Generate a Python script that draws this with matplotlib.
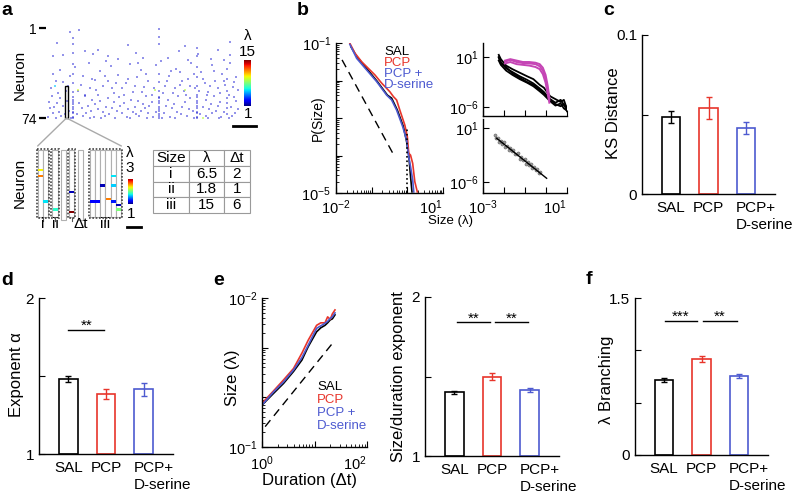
import numpy as np
import matplotlib.pyplot as plt
from matplotlib.patches import Rectangle, ConnectionPatch
from matplotlib.lines import Line2D

plt.rcParams['font.family'] = ['Liberation Sans', 'DejaVu Sans']
plt.rcParams['mathtext.fontset'] = 'custom'
plt.rcParams['mathtext.rm'] = 'Liberation Sans'
plt.rcParams['mathtext.default'] = 'rm'
plt.rcParams['xtick.direction'] = 'in'
plt.rcParams['ytick.direction'] = 'in'
plt.rcParams['axes.linewidth'] = 1.0
plt.rcParams['xtick.major.size'] = 4
plt.rcParams['ytick.major.size'] = 4
plt.rcParams['xtick.minor.size'] = 2
plt.rcParams['ytick.minor.size'] = 2

# ---------------- data ----------------
groups = ['SAL', 'PCP', 'PCP+']
bar_x = [1, 2, 3]
ks_mean = [0.0485, 0.054, 0.0415]
ks_err = [0.004, 0.007, 0.004]
alpha_mean = [1.48, 1.385, 1.415]
alpha_err = [0.02, 0.03, 0.04]
sd_mean = [1.40, 1.50, 1.415]
sd_err = [0.01, 0.025, 0.015]
branch_mean = [0.717, 0.917, 0.755]
branch_err = [0.015, 0.03, 0.015]

# panel a raster events (time bin, neuron)
top_events = [(111, 2), (31, 3), (22, 4), (111, 8), (25, 9), (182, 12), (9, 13), (25, 14), (111, 14),
              (80, 15), (137, 16), (149, 17), (50, 19), (170, 19), (37, 20), (131, 20), (25, 21),
              (88, 21), (150, 22), (45, 22), (182, 23), (15, 23), (5, 24), (60, 24), (149, 24),
              (95, 25), (120, 25), (163, 26), (70, 26), (140, 27), (176, 27)]
mid_events = [(3, 50), (8, 44), (12, 35), (18, 52), (22, 40), (25, 30), (25, 38), (25, 46), (25, 53),
              (27, 33), (33, 47), (37, 55), (41, 29), (44, 42), (48, 51), (52, 36), (55, 48), (60, 44),
              (63, 32), (66, 54), (70, 39), (74, 50), (78, 46), (82, 30), (85, 53), (89, 41), (93, 35),
              (96, 49), (100, 44), (104, 55), (108, 31), (111, 38), (111, 45), (111, 52), (113, 28),
              (117, 48), (121, 40), (125, 54), (128, 34), (132, 47), (136, 52), (140, 42), (143, 29),
              (147, 50), (149, 33), (149, 41), (149, 48), (149, 55), (153, 37), (157, 46), (160, 53),
              (164, 31), (167, 44), (170, 50), (174, 38), (177, 47), (179, 34), (179, 42), (179, 52),
              (182, 29), (185, 49), (188, 41), (15, 45), (58, 28), (90, 29), (132, 37), (5, 38),
              (47, 43), (10, 54), (20, 48), (30, 52), (35, 40), (42, 50), (50, 55), (57, 40), (64, 50),
              (68, 46), (76, 55), (80, 42), (87, 48), (94, 53), (98, 38), (106, 50), (115, 54),
              (119, 44), (123, 36), (127, 50), (134, 44), (138, 55), (142, 48), (146, 38), (151, 52),
              (155, 42), (159, 55), (162, 48), (166, 36), (172, 54), (176, 44), (181, 55), (186, 45),
              (190, 51)]
low_events = [(4, 56), (25, 57), (37, 56), (71, 57), (98, 56), (111, 57), (130, 56), (149, 57), (166, 56), (186, 57),
              (12, 58), (25, 59), (44, 59), (60, 58), (83, 59), (111, 58), (120, 59), (142, 58), (158, 59), (179, 58),
              (1, 61), (19, 60), (25, 61), (52, 60), (66, 61), (90, 60), (104, 61), (111, 60), (137, 61), (149, 60),
              (172, 61), (188, 60),
              (9, 62), (25, 63), (31, 62), (47, 63), (76, 62), (95, 63), (111, 62), (126, 63), (149, 62), (163, 63),
              (179, 62),
              (6, 65), (15, 64), (25, 65), (40, 64), (58, 65), (72, 64), (87, 65), (101, 64), (111, 65), (118, 64),
              (134, 65), (149, 64), (155, 65), (170, 64), (183, 65),
              (2, 66), (25, 67), (34, 66), (50, 67), (64, 66), (80, 67), (97, 66), (111, 67), (124, 66), (141, 67),
              (149, 66), (161, 67), (179, 66), (190, 67),
              (11, 69), (21, 68), (25, 69), (43, 68), (55, 69), (69, 68), (85, 69), (93, 68), (108, 69), (111, 68),
              (129, 69), (145, 68), (149, 69), (168, 68), (176, 69),
              (5, 70), (17, 71), (25, 70), (29, 71), (38, 70), (61, 71), (74, 70), (88, 71), (100, 70), (111, 71),
              (116, 70), (133, 71), (149, 70), (152, 71), (164, 70), (179, 71), (187, 70),
              (0, 73), (13, 72), (25, 73), (35, 72), (46, 73), (57, 72), (79, 73), (91, 72), (105, 73), (111, 72),
              (122, 73), (139, 72), (149, 73), (158, 72), (173, 73), (184, 72),
              (8, 74), (23, 74), (25, 74), (42, 74), (53, 74), (67, 74), (82, 74), (99, 74), (111, 74), (114, 74),
              (127, 74), (146, 74), (149, 74), (160, 74), (171, 74), (181, 74)]
bright_t = [7, 30, 107, 137, 155]
bright_n = [48, 51, 51, 51, 74]
bright_lam = [5.5, 9.5, 9.0, 9.0, 9.0]
highlight_t = (17, 20)
highlight_n = (48, 74)

# zoomed avalanches
zoom_start = [0.5, 3.3, 6.4, 10.3]
zoom_nbins = [2, 1, 1, 6]
zoom_names = ['i', 'ii', '', 'iii']
zoom_empty = [4.9, 8.1]
zoom_ev_bin = [0.5, 0.5, 1.5, 3.3, 6.4, 6.4, 10.3, 11.3, 12.3, 13.3, 14.3, 14.3, 14.3, 15.3, 15.3]
zoom_ev_n = [56.3, 58.6, 68.6, 71.7, 64.8, 72.5, 68.5, 68.5, 62.4, 67.5, 58.6, 62.4, 68.5, 69.8, 71.7]
zoom_ev_lam = [2.3, 2.55, 1.7, 1.8, 1.1, 3.0, 1.25, 1.25, 1.1, 2.55, 1.7, 1.65, 1.3, 1.1, 2.0]
size_id = ['i', 'ii', 'iii']
size_lam = ['6.5', '1.8', '15']
size_dt = ['2', '1', '6']

# panel b: avalanche size distributions (log10 values)
sal_x = [-1.58, -1.42, -1.14, -0.84, -0.56, -0.44, -0.28, -0.11, -0.02, 0.04, 0.09, 0.13]
sal_y = [-1.10, -1.36, -1.68, -2.03, -2.39, -2.47, -2.79, -3.23, -3.63, -3.99, -4.56, -4.97]
pcp_x = [-1.61, -1.47, -1.28, -1.09, -0.91, -0.72, -0.49, -0.39, -0.30, -0.21, -0.07, 0.00, 0.04, 0.09, 0.15, 0.21, 0.28]
pcp_y = [-1.01, -1.27, -1.50, -1.68, -1.85, -2.07, -2.30, -2.43, -2.52, -2.79, -3.19, -3.50, -3.94, -3.99, -4.21, -4.70, -4.97]
dser_x = [-1.61, -1.42, -1.14, -0.86, -0.58, -0.44, -0.30, -0.13, -0.02, 0.03, 0.09, 0.15, 0.18]
dser_y = [-1.04, -1.41, -1.72, -2.03, -2.39, -2.52, -2.79, -3.23, -3.59, -3.99, -4.30, -4.65, -4.97]
size_fit_x = [-1.83, -0.35]
size_fit_y = [-1.45, -4.04]
size_cut = 1.0
size_cut_top = -3.27

# panel b insets
shuf_x = [-2.25, -2.15, -1.9, -1.6, -1.25, -0.9, -0.6, -0.3, -0.1, 0.2, 0.45, 0.7, 0.85, 1.0]
shuf_y1 = [1.3, 0.7, -0.2, -0.7, -1.2, -1.7, -2.1, -2.9, -3.3, -4.5, -4.9, -5.3, -5.0, -6.3]
shuf_y2 = [0.9, 0.3, -0.6, -1.1, -1.7, -2.2, -2.7, -3.4, -3.9, -4.9, -5.4, -5.0, -5.7, -6.0]
shuf_y3 = [0.5, -0.1, -0.9, -1.5, -2.1, -2.6, -3.1, -3.8, -4.3, -5.2, -5.8, -5.5, -6.2, -6.5]
shuf_y4 = [1.0, 0.1, -0.4, -1.3, -1.9, -2.5, -2.9, -3.6, -4.1, -5.0, -5.6, -5.9, -5.6, -6.6]
data_x = [-1.95, -1.7, -1.4, -1.1, -0.8, -0.5, -0.3, -0.15, -0.02, 0.08, 0.16]
data_y1 = [0.35, 0.6, 0.3, 0.15, 0.1, 0.0, -0.3, -0.9, -2.0, -3.6, -5.0]
data_y2 = [0.1, 0.3, 0.0, -0.1, -0.2, -0.4, -0.7, -1.4, -2.6, -4.2, -5.4]
data_y3 = [0.5, 0.7, 0.5, 0.3, 0.3, 0.2, 0.0, -0.5, -1.5, -3.0, -4.7]
scat_x = [-2.45, -2.38, -2.30, -2.22, -2.15, -2.08, -2.00, -1.93, -1.85, -1.78, -1.70, -1.62, -1.55, -1.48, -1.40,
          -1.33, -1.25, -1.18, -1.10, -1.02, -0.95, -0.88, -0.80, -0.72, -0.65, -0.58, -0.50, -0.42, -0.35, -0.28]
scat_y = [0.14, -0.31, -0.24, -0.86, -0.62, -1.02, -0.79, -1.45, -1.32, -1.87, -1.55, -2.02, -1.82, -2.43, -2.35,
          -2.25, -2.98, -2.78, -3.21, -3.03, -3.68, -3.43, -3.81, -3.63, -4.24, -4.04, -4.41, -4.34, -4.84, -4.74]
scat_fit_x = [-2.35, 0.03]
scat_fit_y = [-0.33, -5.52]

# panel e: size vs duration (log10 values)
dur_x = [0.0, 0.22, 0.41, 0.60, 0.76, 0.88, 1.04, 1.12, 1.20, 1.25, 1.30, 1.34, 1.39]
dur_sal = [-0.155, 0.08, 0.28, 0.52, 0.75, 1.02, 1.32, 1.40, 1.45, 1.50, 1.56, 1.58, 1.66]
dur_pcp = [-0.12, 0.13, 0.35, 0.58, 0.89, 1.15, 1.45, 1.50, 1.50, 1.62, 1.57, 1.68, 1.76]
dur_dser = [-0.155, 0.11, 0.31, 0.55, 0.80, 1.05, 1.39, 1.44, 1.49, 1.53, 1.59, 1.62, 1.70]
dur_fit_x = [0.06, 1.39]
dur_fit_y = [-0.59, 1.15]

RED = '#e8352b'
BLUE = '#4d5ad0'
MAG = '#c545b5'
bar_colors = ['black', RED, BLUE]

# ---------------- figure ----------------
W, H = 798.0, 499.0
fig = plt.figure(figsize=(7.98, 4.99), dpi=100)


def add_ax(x0, y0, x1, y1):
    return fig.add_axes([x0 / W, 1 - y1 / H, (x1 - x0) / W, (y1 - y0) / H])


def ftext(x, y, s, **kw):
    kw.setdefault('ha', 'center')
    kw.setdefault('va', 'center')
    fig.text(x / W, 1 - y / H, s, **kw)


def fline(x0, x1, y, lw=2.0):
    fig.add_artist(Line2D([x0 / W, x1 / W], [1 - y / H, 1 - y / H], color='black', lw=lw,
                          transform=fig.transFigure))


def clean(ax):
    ax.spines['top'].set_visible(False)
    ax.spines['right'].set_visible(False)


def bar_panel(box, means, errs, ylim, yticks, ylabels):
    ax = add_ax(*box)
    for x, m, e, c in zip(bar_x, means, errs, bar_colors):
        ax.bar(x, m - ylim[0], bottom=ylim[0], width=0.5, facecolor='white', edgecolor=c, lw=1.2)
        ax.errorbar(x, m, yerr=e, color=c, lw=1.0, capsize=2, capthick=1.0)
    ax.set_xlim(0.22, 3.78)
    ax.set_ylim(*ylim)
    ax.set_yticks(yticks)
    ax.set_yticklabels(ylabels)
    ax.set_xticks(bar_x[:2])
    ax.set_xticklabels(groups[:2])
    ax.tick_params(axis='x', length=0, pad=5, labelsize=11)
    ax.tick_params(axis='y', labelsize=11, length=4)
    ax.annotate('PCP+\nD-serine', xy=(3, 0), xycoords=('data', 'axes fraction'), xytext=(-7, -5),
                textcoords='offset points', ha='left', va='top', fontsize=11, linespacing=1.3)
    clean(ax)
    return ax


def sig(ax, x0, x1, y, s):
    ax.plot([x0, x1], [y, y], color='black', lw=1.0)
    ax.text((x0 + x1) / 2, y, s, ha='center', va='baseline', fontsize=11)


# ----- panel a: raster -----
jet = plt.get_cmap('jet')
rax = add_ax(46, 28, 238, 118)
for ev in (top_events, mid_events, low_events):
    t, n = np.array(ev).T
    rax.scatter(t, n, s=2.0, marker='s', color=jet(0.07), alpha=0.42, linewidths=0, clip_on=False)
rax.scatter(bright_t, bright_n, s=2.0, marker='s', c=bright_lam, cmap='jet', vmin=1, vmax=15,
            alpha=0.6, linewidths=0, clip_on=False)
rax.add_patch(Rectangle((highlight_t[0], highlight_n[0]), highlight_t[1] - highlight_t[0],
                        highlight_n[1] - highlight_n[0], fill=False, ec='black', lw=1.0, clip_on=False))
rax.set_xlim(-2, 190)
rax.set_ylim(74, 1)
rax.set_xticks([])
rax.set_yticks([1, 74])
rax.set_yticklabels(['1', '74'])
rax.tick_params(axis='y', direction='out', length=5, width=1.6, pad=2, labelsize=10)
for sp in rax.spines.values():
    sp.set_visible(False)
ftext(20, 75, 'Neuron', rotation=90, fontsize=11)

cax = add_ax(244, 60, 251, 106)
cax.imshow(np.linspace(0, 1, 256)[:, None], aspect='auto', cmap='jet', origin='lower')
cax.axis('off')
ftext(248, 36, 'λ', fontsize=11)
ftext(247, 52, '15', fontsize=11)
ftext(248, 114, '1', fontsize=11)
fline(233, 256, 126)

# zoomed avalanches
zax = add_ax(35, 146, 126, 221)
zax.set_xlim(0, 17.17)
zax.set_ylim(76, 47)
zax.axis('off')
for s, nb, name in zip(zoom_start, zoom_nbins, zoom_names):
    for k in range(nb):
        zax.add_patch(Rectangle((s + k, 48.5), 1, 26, fc='white', ec='#b0b0b0', lw=0.8))
    zax.add_patch(Rectangle((s - 0.2, 48.3), nb + 0.4, 26.4, fill=False, ec='#444444', lw=1.2,
                            ls=(0, (1, 1)), clip_on=False))
    zax.plot([s + nb / 2, s + nb / 2], [74.8, 75.9], color='#555555', lw=0.8, clip_on=False)
    if name:
        zax.text(s + nb / 2, 77.3, name, ha='center', va='center', fontsize=11)
for s in zoom_empty:
    zax.add_patch(Rectangle((s, 48.5), 1, 27, fc='white', ec='#b0b0b0', lw=0.8, clip_on=False))
zax.text(zoom_empty[1] + 0.5, 77.3, 'Δt', ha='center', va='center', fontsize=11)
for b, n, lam in zip(zoom_ev_bin, zoom_ev_n, zoom_ev_lam):
    zax.add_patch(Rectangle((b + 0.05, n - 0.55), 0.9, 1.1, fc=jet((lam - 1) / 2), ec='none'))
ftext(20, 183, 'Neuron', rotation=90, fontsize=11)

for xb in (zoom_start[0], zoom_start[-1] + zoom_nbins[-1]):
    fig.add_artist(ConnectionPatch(xyA=(sum(highlight_t) / 2, highlight_n[1]), coordsA=rax.transData,
                                   xyB=(xb, 47.0), coordsB=zax.transData, color='#aaaaaa', lw=1.0))

c2ax = add_ax(128, 179, 133, 204)
c2ax.imshow(np.linspace(0, 1, 256)[:, None], aspect='auto', cmap='jet', origin='lower')
c2ax.axis('off')
ftext(130, 153, 'λ', fontsize=11)
ftext(130, 168, '3', fontsize=11)
ftext(131, 214, '1', fontsize=11)
fline(127, 141, 227)

tax = add_ax(153, 150, 250, 213)
tax.axis('off')
cells = [['Size', 'λ', 'Δt']] + [[a, b, c] for a, b, c in zip(size_id, size_lam, size_dt)]
tbl = tax.table(cellText=cells, cellLoc='center', bbox=[0, 0, 1, 1], colWidths=[0.37, 0.36, 0.27])
tbl.auto_set_font_size(False)
tbl.set_fontsize(11)
for cell in tbl.get_celld().values():
    cell.set_edgecolor('#9a9a9a')
    cell.set_linewidth(0.8)

# ----- panel b -----
bax = add_ax(336, 43, 443, 193)
bax.set_xscale('log')
bax.set_yscale('log')
for xs, ys, c in ((sal_x, sal_y, 'black'), (pcp_x, pcp_y, RED), (dser_x, dser_y, BLUE)):
    bax.plot(10 ** np.array(xs), 10 ** np.array(ys), color=c, lw=1.2)
bax.plot(10 ** np.array(size_fit_x), 10 ** np.array(size_fit_y), color='black', lw=1.0, dashes=(6, 4))
bax.plot([size_cut, size_cut], [1e-5, 10 ** size_cut_top], color='black', lw=1.2, ls=':')
bax.set_xlim(1e-2, 1e1)
bax.set_ylim(1e-5, 1e-1)
bax.set_xticks([1e-2, 1e-1, 1, 1e1])
bax.set_xticklabels(['$10^{-2}$', '', '', '$10^{1}$'])
bax.get_xticklabels()[-1].set_ha('right')
bax.set_yticks([1e-5, 1e-4, 1e-3, 1e-2, 1e-1])
bax.set_yticklabels(['$10^{-5}$', '', '', '', '$10^{-1}$'])
bax.tick_params(labelsize=10.5)
bax.tick_params(axis='x', pad=4)
clean(bax)
ftext(318, 118, 'P(Size)', rotation=90, fontsize=10)
ftext(451, 221, 'Size (λ)', fontsize=9.5)
for yy, s, c in ((52, 'SAL', 'black'), (63, 'PCP', RED), (74, 'PCP +', BLUE), (85, 'D-serine', BLUE)):
    ftext(384, yy, s, ha='left', color=c, fontsize=9.5)

iax1 = add_ax(483, 43, 567, 116)
iax2 = add_ax(483, 119, 567, 193)
for ys in (shuf_y1, shuf_y2, shuf_y3, shuf_y4):
    iax1.plot(10 ** np.array(shuf_x), 10 ** np.array(ys), color='black', lw=1.3)
for ys in (data_y1, data_y2, data_y3):
    iax1.plot(10 ** np.array(data_x), 10 ** np.array(ys), color=MAG, lw=1.4)
iax2.plot(10 ** np.array(scat_x), 10 ** np.array(scat_y), 'o', ms=2.2, mfc='#9a9a9a', mec='#666666', mew=0.4)
iax2.plot(10 ** np.array(scat_fit_x), 10 ** np.array(scat_fit_y), color='black', lw=1.0)
for ax, ylo, yhi in ((iax1, -7.26, 2.96), (iax2, -7.43, 2.17)):
    ax.set_xscale('log')
    ax.set_yscale('log')
    ax.set_xlim(1e-3, 1e1)
    ax.set_ylim(10 ** ylo, 10 ** yhi)
    ax.set_xticks([1e-3, 1e-2, 1e-1, 1, 1e1])
    ax.set_yticks([1e-6, 1e1])
    ax.set_yticklabels(['$10^{-6}$', '$10^{1}$'])
    ax.minorticks_off()
    ax.tick_params(labelsize=10.5)
    clean(ax)
iax1.set_xticklabels([])
iax2.set_xticklabels(['$10^{-3}$', '', '', '', '$10^{1}$'])
iax2.get_xticklabels()[-1].set_ha('right')
iax2.tick_params(axis='x', pad=4)

# ----- bar panels -----
cax2 = bar_panel((642, 35, 775, 194), ks_mean, ks_err, (0, 0.1), [0, 0.05, 0.1], ['0', '', '0.1'])
ftext(614, 113, 'KS Distance', rotation=90, fontsize=12)

dax = bar_panel((39, 298, 173, 454), alpha_mean, alpha_err, (1, 2), [1, 1.5, 2], ['1', '', '2'])
sig(dax, 1.0, 1.95, 1.795, '**')
ftext(17, 375, 'Exponent α', rotation=90, fontsize=12)

eax2 = bar_panel((425, 297, 559, 456), sd_mean, sd_err, (1, 2), [1, 1.5, 2], ['1', '', '2'])
sig(eax2, 1.07, 1.95, 1.84, '**')
sig(eax2, 2.08, 2.96, 1.84, '**')
ftext(398, 377, 'Size/duration exponent', rotation=90, fontsize=12)

fax = bar_panel((635, 298, 768, 455), branch_mean, branch_err, (0, 1.5), [0, 0.5, 1, 1.5],
                ['0', '', '', '1.5'])
sig(fax, 1.01, 1.87, 1.28, '***')
sig(fax, 2.03, 2.96, 1.28, '**')
ftext(607, 380, 'λ Branching', rotation=90, fontsize=12)

# ----- panel e left -----
eax = add_ax(262, 298, 367, 447)
eax.set_xscale('log')
eax.set_yscale('log')
for ys, c in ((dur_sal, 'black'), (dur_pcp, RED), (dur_dser, BLUE)):
    eax.plot(10 ** np.array(dur_x), 10 ** np.array(ys), color=c, lw=1.2)
eax.plot(10 ** np.array(dur_fit_x), 10 ** np.array(dur_fit_y), color='black', lw=1.0, dashes=(6, 4))
eax.set_xlim(1, 100)
eax.set_ylim(0.1, 100)
eax.set_xticks([1, 10, 100])
eax.set_xticklabels(['$10^{0}$', '', '$10^{2}$'])
eax.get_xticklabels()[-1].set_ha('right')
eax.set_yticks([0.1, 1, 10, 100])
eax.set_yticklabels(['$10^{-1}$', '', '', '$10^{-2}$'])
eax.tick_params(labelsize=10.5)
eax.tick_params(axis='x', pad=5)
clean(eax)
ftext(232, 378, 'Size (λ)', rotation=90, fontsize=12)
ftext(310, 481, 'Duration (Δt)', fontsize=12)
for yy, s, c in ((387, 'SAL', 'black'), (400, 'PCP', RED), (413, 'PCP +', BLUE), (426, 'D-serine', BLUE)):
    ftext(317, yy, s, ha='left', color=c, fontsize=9.5)

# panel letters
for x, y, s in ((1, 15, 'a'), (297, 15, 'b'), (603, 15, 'c'), (1, 285, 'd'), (213, 285, 'e'), (586, 284, 'f')):
    ftext(x, y, s, ha='left', va='baseline', fontsize=14, fontweight='bold')

fig.savefig('out.png', dpi=100, facecolor='white')
